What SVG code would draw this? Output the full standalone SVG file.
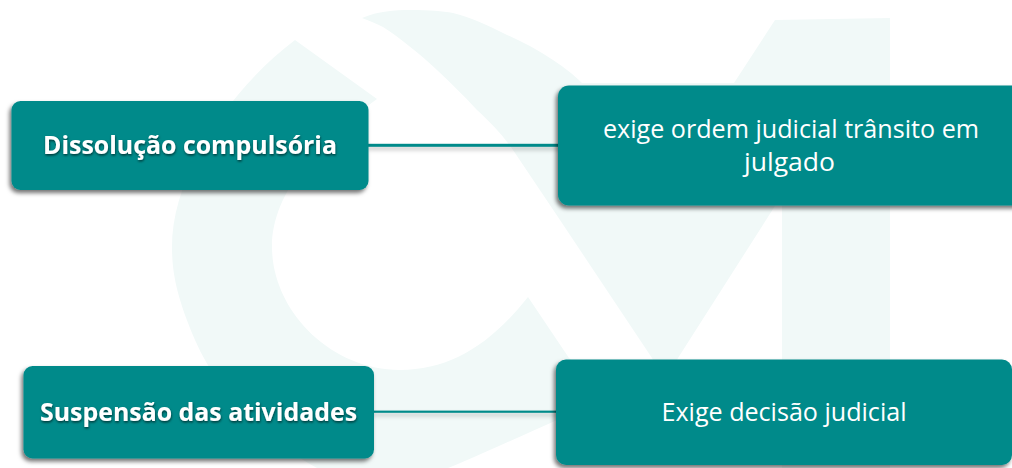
<svg xmlns="http://www.w3.org/2000/svg" width="1012" height="468" viewBox="0 0 1012 468">
  <style>
    .box { fill: #008a8a; filter: url(#boxShadow); }
    .wire { fill: #008a8a; filter: url(#wireShadow); }
    .mark { fill: #f1f9f8; }
    text { font-family: "Open Sans", "Noto Sans", "Liberation Sans", sans-serif; fill: #ffffff; font-size: 25px; }
    .head { font-weight: 700; filter: url(#textShadow); }
  </style>
  <defs>
    <filter id="boxShadow" x="-5%" y="-10%" width="110%" height="125%">
      <feDropShadow dx="-2" dy="3" stdDeviation="2.2" flood-color="#000000" flood-opacity="0.55"/>
    </filter>
    <filter id="wireShadow" x="-5%" y="-500%" width="110%" height="1100%">
      <feDropShadow dx="0" dy="3" stdDeviation="2" flood-color="#000000" flood-opacity="0.25"/>
    </filter>
    <filter id="textShadow" x="-5%" y="-20%" width="110%" height="150%">
      <feDropShadow dx="0.5" dy="1.5" stdDeviation="1.2" flood-color="#000000" flood-opacity="0.6"/>
    </filter>
  </defs>
  <rect width="1012" height="468" fill="#ffffff"/>
  <g id="watermark">
    <path class="mark" d="M295 40 L377 99 C322 140 272 190 272 247 C272 310 330 370 400 370 C450 370 490 345 528 297 L569 358 L610 395 C570 415 530 432 483 453 C440 472 400 490 360 485 C300 470 225 410 195 340 C178 300 172 275 172 247 C172 170 235 85 295 40 Z"/>
    <path class="mark" d="M362 18 C378 11 395 10 410 10 C430 10 442 11 453 13 C470 17 487 25 503 33 C520 41 537 49 553 60 C565 68 574 75 582 83 L734 83 L775 20 L890 18 L890 468 L782 468 L782 195 L678 358 L665 385 L652 358 L560 220 L513 150 C502 134 490 122 477 110 C463 95 450 82 437 70 C420 54 400 38 383 27 C377 24 370 21 362 18 Z"/>
  </g>
  <g id="connectors">
    <rect class="wire" x="368" y="143.8" width="192" height="3"/>
    <rect class="wire" x="373" y="410.6" width="185" height="2.2"/>
  </g>
  <g id="node-dissolucao">
    <rect class="box" x="11.5" y="101" width="357" height="89" rx="9"/>
    <text class="head" x="43" y="154" textLength="294" lengthAdjust="spacingAndGlyphs">Dissolução compulsória</text>
  </g>
  <g id="node-exige-ordem">
    <rect class="box" x="558" y="85.5" width="470" height="120" rx="11"/>
    <text x="603" y="138" textLength="376" lengthAdjust="spacingAndGlyphs">exige ordem judicial trânsito em</text>
    <text x="744" y="171" textLength="91" lengthAdjust="spacingAndGlyphs">julgado</text>
  </g>
  <g id="node-suspensao">
    <rect class="box" x="23.5" y="366" width="350.5" height="92.5" rx="9"/>
    <text class="head" x="40" y="420.5" textLength="317" lengthAdjust="spacingAndGlyphs">Suspensão das atividades</text>
  </g>
  <g id="node-exige-decisao">
    <rect class="box" x="556" y="359.5" width="456" height="105.5" rx="10"/>
    <text x="661.5" y="421" textLength="245" lengthAdjust="spacingAndGlyphs">Exige decisão judicial</text>
  </g>
</svg>
